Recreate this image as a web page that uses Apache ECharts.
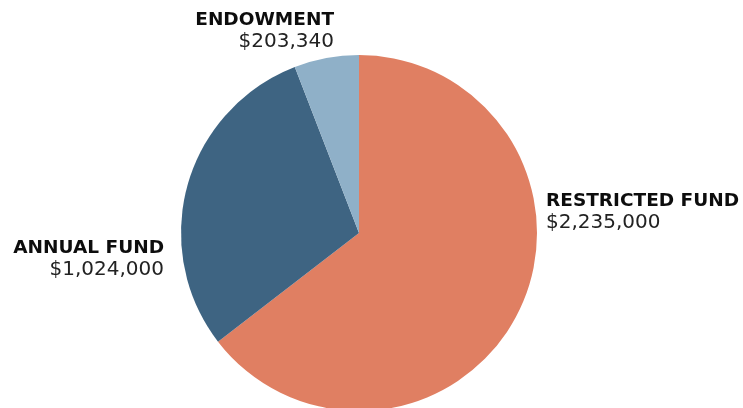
<!DOCTYPE html>
<html><head><meta charset="utf-8">
<script src="https://cdn.jsdelivr.net/npm/echarts@6/dist/echarts.min.js"></script>
<style>html,body{margin:0;padding:0;background:#fff}#c{width:743px;height:408px}</style>
</head><body><div id="c"></div>
<script>
const categories = ['RESTRICTED FUND', 'ANNUAL FUND', 'ENDOWMENT'];
const values = [2235000, 1024000, 203340];
const colors = ['#E07F62', '#3E6482', '#8FB0C8'];
// label anchor positions (layout, not data)
const labelPos = [
  {x: 546, y: 212, align: 'left'},
  {x: 164, y: 259, align: 'right'},
  {x: 334, y: 31, align: 'right'}
];
const fmt = v => '$' + v.toLocaleString('en-US');
const chart = echarts.init(document.getElementById('c'));
chart.setOption({
  animation: false,
  series: [{
    type: 'pie',
    center: [359, 233],
    radius: 178,
    startAngle: 90,
    clockwise: true,
    avoidLabelOverlap: false,
    itemStyle: {borderWidth: 0},
    labelLine: {show: false},
    label: {
      show: true,
      position: 'outside',
      formatter: p => '{a|' + p.name + '}\n{b|' + fmt(p.value) + '}',
      rich: {
        a: {fontFamily: 'DejaVu Sans', fontWeight: 'bold', fontSize: 18.5, color: '#0d0d0d', lineHeight: 22},
        b: {fontFamily: 'DejaVu Sans', fontWeight: 'normal', fontSize: 20, color: '#222', lineHeight: 22}
      }
    },
    labelLayout: p => ({
      x: labelPos[p.dataIndex].x,
      y: labelPos[p.dataIndex].y,
      align: labelPos[p.dataIndex].align,
      verticalAlign: 'middle'
    }),
    emphasis: {disabled: true},
    data: categories.map((c, i) => ({name: c, value: values[i], itemStyle: {color: colors[i]}}))
  }]
});
</script></body></html>
